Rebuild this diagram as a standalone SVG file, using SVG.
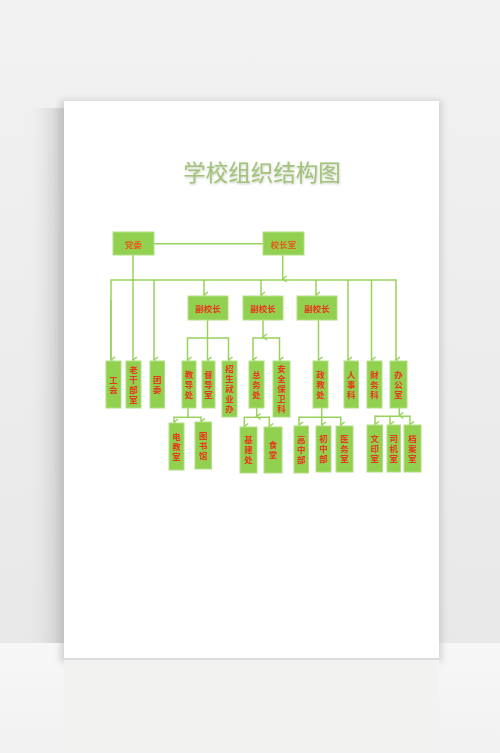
<svg xmlns="http://www.w3.org/2000/svg" width="500" height="753" viewBox="0 0 500 753">
<defs>
<style>
.box{fill:#92d050;stroke:#b3df86;stroke-width:1}
.t{font-family:"Noto Sans CJK SC","Noto Sans",sans-serif;font-weight:bold;font-size:8.5px;fill:#e33a1c;text-anchor:middle;dominant-baseline:central}
.v{font-family:"Noto Sans CJK SC","Noto Sans",sans-serif;font-weight:bold;font-size:8.5px;fill:#e33a1c;text-anchor:middle;writing-mode:vertical-rl;letter-spacing:1.5px}
.c{fill:none;stroke:#98d25c;stroke-width:1.5}
</style>
<marker id="ar" markerUnits="userSpaceOnUse" markerWidth="10" markerHeight="10" refX="5" refY="6" orient="auto-start-reverse" viewBox="0 0 10 10">
<polyline points="2,2 5,6 8,2" fill="none" stroke="#98d25c" stroke-width="1.5"/>
</marker>
<linearGradient id="wall" x1="0" y1="0" x2="0" y2="1">
<stop offset="0" stop-color="#f2f2f2"/>
<stop offset="1" stop-color="#e8e8e8"/>
</linearGradient>
<linearGradient id="floor" x1="0" y1="0" x2="0" y2="1">
<stop offset="0" stop-color="#f7f7f7"/>
<stop offset="1" stop-color="#f1f1f1"/>
</linearGradient>
<linearGradient id="lsh" x1="0" y1="0" x2="1" y2="0">
<stop offset="0" stop-color="#e8e8e8" stop-opacity="0"/>
<stop offset="1" stop-color="#c0c0c0"/>
</linearGradient>
<filter id="blur" x="-20%" y="-20%" width="140%" height="140%">
<feGaussianBlur stdDeviation="3"/>
</filter>
<filter id="tsh" x="-10%" y="-30%" width="120%" height="160%">
<feDropShadow dx="0.5" dy="1" stdDeviation="0.8" flood-color="#8a9a7a" flood-opacity="0.5"/>
</filter>
</defs>
<g id="background">
<rect x="0" y="0" width="500" height="643" fill="url(#wall)"/>
<rect x="0" y="643" width="500" height="110" fill="url(#floor)"/>
<rect x="28" y="108" width="36" height="535" fill="url(#lsh)" opacity="0.85"/>
<rect x="60" y="100" width="382" height="562" fill="#bdbdbd" filter="url(#blur)" opacity="0.6"/>
<rect x="64" y="660" width="375" height="90" fill="#f2f2f0"/>
<rect x="64" y="101" width="375" height="557" fill="#ffffff"/>
</g>
<text id="title" x="262" y="181" font-family="'Noto Sans CJK SC','Noto Sans',sans-serif" font-size="22.5" fill="#a3c27a" text-anchor="middle" filter="url(#tsh)">学校组织结构图</text>
<g id="connectors">
<line class="c" x1="154" y1="243.7" x2="263" y2="243.7"/>
<line class="c" x1="282.7" y1="255" x2="282.7" y2="279" marker-end="url(#ar)"/>
<polyline class="c" points="111,360 111,280 396,280"/>
<line class="c" x1="111" y1="300" x2="111" y2="360" marker-end="url(#ar)"/>
<line class="c" x1="133" y1="255" x2="133" y2="360" marker-end="url(#ar)"/>
<line class="c" x1="154" y1="280" x2="154" y2="360" marker-end="url(#ar)"/>
<line class="c" x1="204" y1="280" x2="204" y2="295" marker-end="url(#ar)"/>
<line class="c" x1="261" y1="280" x2="261" y2="295" marker-end="url(#ar)"/>
<line class="c" x1="316" y1="280" x2="316" y2="295" marker-end="url(#ar)"/>
<line class="c" x1="348" y1="280" x2="348" y2="360" marker-end="url(#ar)"/>
<line class="c" x1="371.5" y1="280" x2="371.5" y2="360" marker-end="url(#ar)"/>
<line class="c" x1="396" y1="279.3" x2="396" y2="360" marker-end="url(#ar)"/>
<line class="c" x1="207.5" y1="320" x2="207.5" y2="338"/>
<line class="c" x1="187.5" y1="338" x2="228.5" y2="338"/>
<line class="c" x1="187.5" y1="337.3" x2="187.5" y2="360" marker-end="url(#ar)"/>
<line class="c" x1="207.5" y1="338" x2="207.5" y2="360" marker-end="url(#ar)"/>
<line class="c" x1="228.5" y1="337.3" x2="228.5" y2="360" marker-end="url(#ar)"/>
<line class="c" x1="263" y1="320" x2="263" y2="337" marker-end="url(#ar)"/>
<line class="c" x1="253" y1="338" x2="279.5" y2="338"/>
<line class="c" x1="253" y1="337.3" x2="253" y2="360" marker-end="url(#ar)"/>
<line class="c" x1="279.5" y1="337.3" x2="279.5" y2="360" marker-end="url(#ar)"/>
<line class="c" x1="318.5" y1="320" x2="318.5" y2="360" marker-end="url(#ar)"/>
<line class="c" x1="188" y1="408" x2="188" y2="417.3"/>
<line class="c" x1="174" y1="417.3" x2="201" y2="417.3"/>
<line class="c" x1="174" y1="416.6" x2="174" y2="422" marker-end="url(#ar)"/>
<line class="c" x1="201" y1="416.6" x2="201" y2="421.5" marker-end="url(#ar)"/>
<line class="c" x1="256.7" y1="408" x2="256.7" y2="416.5" marker-end="url(#ar)"/>
<line class="c" x1="244.3" y1="417.3" x2="269.3" y2="417.3"/>
<line class="c" x1="244.3" y1="416.6" x2="244.3" y2="426.5" marker-end="url(#ar)"/>
<line class="c" x1="269.3" y1="416.6" x2="269.3" y2="426.5" marker-end="url(#ar)"/>
<line class="c" x1="321.7" y1="408" x2="321.7" y2="425" marker-end="url(#ar)"/>
<line class="c" x1="299" y1="417.3" x2="340.7" y2="417.3"/>
<line class="c" x1="299" y1="416.6" x2="299" y2="425" marker-end="url(#ar)"/>
<line class="c" x1="340.7" y1="416.6" x2="340.7" y2="425" marker-end="url(#ar)"/>
<line class="c" x1="399.3" y1="408" x2="399.3" y2="415.5" marker-end="url(#ar)"/>
<line class="c" x1="375" y1="416.3" x2="410" y2="416.3"/>
<line class="c" x1="375" y1="415.6" x2="375" y2="424.5" marker-end="url(#ar)"/>
<line class="c" x1="390" y1="416.3" x2="390" y2="424.5" marker-end="url(#ar)"/>
<line class="c" x1="410" y1="415.6" x2="410" y2="424.5" marker-end="url(#ar)"/>
</g>
<g id="n-dangwei"><rect class="box" x="113" y="232" width="41" height="23"/><text class="t" x="133.5" y="243.5" style="fill:#e0601c">党委</text></g>
<g id="n-xiaozhangshi"><rect class="box" x="263" y="232" width="41" height="23"/><text class="t" x="283.5" y="243.5" style="fill:#e0601c">校长室</text></g>
<g id="n-fu1"><rect class="box" x="188" y="296" width="40" height="24"/><text class="t" x="208" y="308">副校长</text></g>
<g id="n-fu2"><rect class="box" x="243" y="296" width="40" height="24"/><text class="t" x="263" y="308">副校长</text></g>
<g id="n-fu3"><rect class="box" x="297" y="296" width="40" height="24"/><text class="t" x="317" y="308">副校长</text></g>
<g id="n-gonghui"><rect class="box" x="106" y="361" width="15" height="47"/><text class="v" x="113.5" y="385.3">工会</text></g>
<g id="n-laoganbu"><rect class="box" x="126" y="361" width="15" height="47"/><text class="v" x="133.5" y="385.3">老干部室</text></g>
<g id="n-tuanwei"><rect class="box" x="150" y="361" width="14.5" height="47"/><text class="v" x="157.2" y="385.3">团委</text></g>
<g id="n-jiaodao"><rect class="box" x="182" y="361" width="14" height="47"/><text class="v" x="189" y="385.3">教导处</text></g>
<g id="n-dudao"><rect class="box" x="202" y="361" width="13" height="47"/><text class="v" x="208.5" y="385.3">督导室</text></g>
<g id="n-zhaosheng"><rect class="box" x="222" y="361" width="15" height="56"/><text class="v" x="229.5" y="389.8">招生就业办</text></g>
<g id="n-zongwu"><rect class="box" x="249" y="361" width="15" height="47"/><text class="v" x="256.5" y="385.3">总务处</text></g>
<g id="n-anquan"><rect class="box" x="273" y="361" width="17" height="56"/><text class="v" x="281.5" y="389.8">安全保卫科</text></g>
<g id="n-zhengjiao"><rect class="box" x="313" y="361" width="15" height="47"/><text class="v" x="320.5" y="385.3">政教处</text></g>
<g id="n-renshi"><rect class="box" x="344" y="361" width="14.5" height="47"/><text class="v" x="351.2" y="385.3">人事科</text></g>
<g id="n-caiwu"><rect class="box" x="367" y="361" width="15" height="47"/><text class="v" x="374.5" y="385.3">财务科</text></g>
<g id="n-bangong"><rect class="box" x="390" y="361" width="17" height="47"/><text class="v" x="398.5" y="385.3">办公室</text></g>
<g id="n-dianjiao"><rect class="box" x="169" y="423" width="15" height="47"/><text class="v" x="176.5" y="447.3">电教室</text></g>
<g id="n-tushu"><rect class="box" x="195" y="422" width="16.5" height="47"/><text class="v" x="203.2" y="446.3">图书馆</text></g>
<g id="n-jijian"><rect class="box" x="240" y="427" width="17" height="46"/><text class="v" x="248.5" y="450.8">基建处</text></g>
<g id="n-shitang"><rect class="box" x="264" y="427" width="18" height="46"/><text class="v" x="273" y="450.8">食堂</text></g>
<g id="n-gaozhong"><rect class="box" x="294" y="426" width="14.5" height="47"/><text class="v" x="301.2" y="450.3">高中部</text></g>
<g id="n-chuzhong"><rect class="box" x="316" y="426" width="15" height="46"/><text class="v" x="323.5" y="449.8">初中部</text></g>
<g id="n-yiwu"><rect class="box" x="336" y="426" width="17" height="46"/><text class="v" x="344.5" y="449.8">医务室</text></g>
<g id="n-wenyin"><rect class="box" x="367" y="425" width="15.5" height="47"/><text class="v" x="374.7" y="449.3">文印室</text></g>
<g id="n-siji"><rect class="box" x="387" y="425" width="13.5" height="47"/><text class="v" x="393.7" y="449.3">司机室</text></g>
<g id="n-dangan"><rect class="box" x="404" y="425" width="17" height="47"/><text class="v" x="412.5" y="449.3">档案室</text></g>
</svg>
